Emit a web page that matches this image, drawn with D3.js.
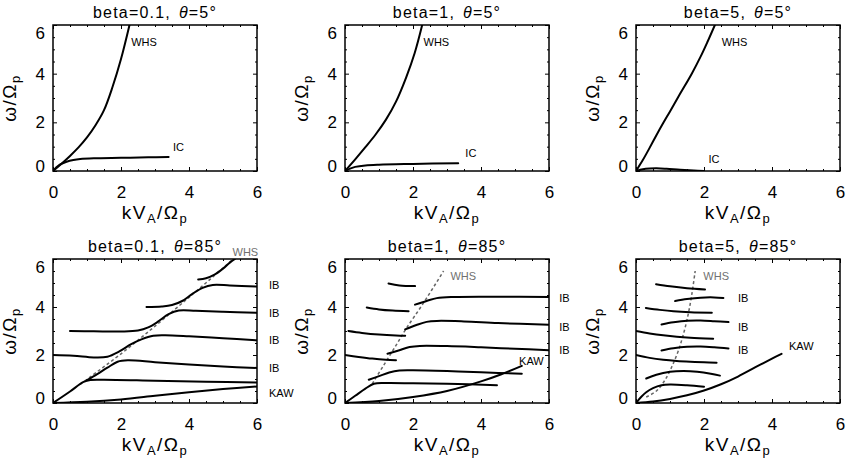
<!DOCTYPE html>
<html>
<head>
<meta charset="utf-8">
<script src="https://cdn.jsdelivr.net/npm/d3@7"></script>
<style>
    body {margin: 0; background: #fff;}
    svg {display: block;}
    text {font-family: "Liberation Sans", Arial, sans-serif;}
</style>
</head>
<body>
<div id="chart"></div>
<script>
// ---- data: [kVA/Ωp, ω/Ωp] ----
var majorTicks = [0, 2, 4, 6];
var minorTicks = [0.5, 1, 1.5, 2.5, 3, 3.5, 4.5, 5, 5.5];
var betas = ["beta=0.1", "beta=1", "beta=5"];
var thetas = ["5°", "85°"];

// theta = 5
var whs_b01_t5 = [[0, 0], [0.25, 0.3], [0.5, 0.62], [0.75, 0.97], [1.0, 1.38], [1.25, 1.88], [1.5, 2.5], [1.75, 3.45], [2.0, 4.6], [2.25, 6.0]];
var ic_b01_t5 = [[0, 0], [0.1, 0.15], [0.2, 0.26], [0.4, 0.38], [0.6, 0.45], [0.8, 0.49], [1.2, 0.52], [2, 0.54], [2.8, 0.56], [3.4, 0.58]];
var whs_b1_t5 = [[0, 0], [0.3, 0.48], [0.6, 0.98], [0.9, 1.5], [1.2, 2.1], [1.5, 2.85], [1.8, 3.85], [2.05, 4.85], [2.27, 6.0]];
var ic_b1_t5 = [[0, 0], [0.15, 0.1], [0.3, 0.17], [0.6, 0.23], [1, 0.26], [2, 0.29], [3.33, 0.32]];
var whs_b5_t5 = [[0, 0], [0.2, 0.45], [0.4, 0.95], [0.6, 1.47], [0.8, 1.97], [1.0, 2.45], [1.3, 3.18], [1.64, 4.0], [1.9, 4.7], [2.1, 5.3], [2.32, 6.0]];
var ic_b5_t5 = [[0, 0], [0.2, 0.07], [0.4, 0.1], [0.6, 0.11], [0.9, 0.09], [1.3, 0.05], [1.7, 0.02], [2.0, 0.0]];

// theta = 85, beta = 0.1
var kaw_b01 = [[0, 0], [1, 0.05], [2, 0.15], [3, 0.3], [4, 0.45], [5, 0.58], [6, 0.69]];
var ib1_b01 = [[0, 0], [0.5, 0.48], [0.9, 0.88], [1.1, 0.96], [1.5, 0.97], [3, 0.93], [4.5, 0.89], [6, 0.85]];
var ib2_b01 = [[1.0, 0.95], [1.3, 1.2], [1.6, 1.47], [1.9, 1.72], [2.2, 1.78], [3, 1.7], [4, 1.6], [5, 1.52], [6, 1.46]];
var ib3_b01 = [[0, 2.0], [0.6, 1.97], [1.2, 1.9], [1.6, 1.93], [1.95, 2.15], [2.3, 2.45], [2.6, 2.65], [2.95, 2.8], [3.3, 2.82], [4, 2.78], [5, 2.7], [6, 2.61]];
var ib4_b01 = [[0.5, 3.0], [1.2, 2.99], [2.0, 2.98], [2.5, 3.02], [2.8, 3.15], [3.1, 3.4], [3.4, 3.7], [3.7, 3.85], [4.2, 3.84], [5, 3.8], [6, 3.76]];
var ib5_b01 = [[2.75, 4.0], [3.2, 4.02], [3.5, 4.08], [3.8, 4.25], [4.1, 4.55], [4.4, 4.8], [4.7, 4.92], [5.2, 4.9], [6, 4.85]];
var ib6_b01 = [[4.27, 5.15], [4.5, 5.2], [4.75, 5.35], [5.0, 5.6], [5.2, 5.85], [5.35, 6.0]];
var whsd_b01 = [[0.8, 0.78], [2, 2.05], [3, 3.2], [4, 4.4], [4.7, 5.25], [5.3, 6.0]];

// theta = 85, beta = 1
var kaw_b1 = [[0, 0], [1, 0.08], [2, 0.25], [3, 0.5], [4, 0.9], [4.6, 1.2], [5.2, 1.55]];
var ib1_b1 = [[0, 0], [0.3, 0.3], [0.6, 0.6], [0.85, 0.8], [1.2, 0.83], [2, 0.82], [3, 0.8], [4.47, 0.74]];
var ib2_b1 = [[0.7, 0.97], [1.0, 1.12], [1.3, 1.27], [1.6, 1.35], [2, 1.36], [3, 1.33], [4, 1.28], [5.2, 1.22]];
var ib3a_b1 = [[0, 2.0], [0.4, 1.92], [0.8, 1.85], [1.2, 1.8], [1.5, 1.78]];
var ib3b_b1 = [[1.25, 2.05], [1.6, 2.2], [1.9, 2.33], [2.2, 2.38], [3, 2.37], [4, 2.32], [5, 2.26], [6, 2.2]];
var ib4a_b1 = [[0.1, 3.0], [0.5, 2.92], [1, 2.85], [1.5, 2.81], [1.77, 2.8]];
var ib4b_b1 = [[1.77, 3.07], [2.1, 3.25], [2.4, 3.38], [2.7, 3.42], [3.5, 3.4], [4.5, 3.33], [6, 3.26]];
var ib5a_b1 = [[0.64, 3.98], [1, 3.9], [1.4, 3.85], [1.87, 3.82]];
var ib5b_b1 = [[2.06, 4.1], [2.4, 4.25], [2.7, 4.37], [3.2, 4.42], [4.5, 4.43], [6, 4.42]];
var ib6_b1 = [[1.28, 4.98], [1.6, 4.9], [2.06, 4.87]];
var whsd_b1 = [[0.8, 0.8], [1.15, 1.6], [1.5, 2.4], [1.8, 3.1], [2.3, 4.15], [2.9, 5.5]];

// theta = 85, beta = 5
var kaw_b5 = [[0, 0], [0.5, 0.06], [1, 0.17], [1.5, 0.32], [2, 0.52], [2.5, 0.78], [3, 1.1], [3.5, 1.48], [4, 1.85], [4.28, 2.05]];
var ib1_b5 = [[0, 0], [0.15, 0.25], [0.3, 0.45], [0.5, 0.62], [0.75, 0.74], [1, 0.77], [1.5, 0.74], [2, 0.68]];
var ib2_b5 = [[0.3, 1.02], [0.6, 1.18], [1, 1.3], [1.4, 1.33], [1.8, 1.3], [2.2, 1.22], [2.47, 1.14]];
var ib3a_b5 = [[0, 2.0], [0.4, 1.88], [0.8, 1.8], [1.2, 1.75], [1.6, 1.72], [2, 1.7], [2.37, 1.68]];
var ib3b_b5 = [[0.75, 2.19], [1.1, 2.28], [1.5, 2.34], [1.9, 2.35], [2.3, 2.32], [2.72, 2.27]];
var ib4a_b5 = [[0, 3.0], [0.4, 2.9], [0.8, 2.82], [1.2, 2.76], [1.6, 2.72], [2.27, 2.68]];
var ib4b_b5 = [[0.75, 3.27], [1.1, 3.36], [1.5, 3.43], [1.9, 3.44], [2.3, 3.41], [2.72, 3.37]];
var ib5a_b5 = [[0.29, 3.96], [0.7, 3.88], [1.1, 3.82], [1.6, 3.78], [2.23, 3.76]];
var ib5b_b5 = [[1.15, 4.25], [1.5, 4.33], [1.9, 4.39], [2.3, 4.4], [2.57, 4.38]];
var ib6_b5 = [[0.59, 4.95], [1, 4.86], [1.5, 4.78], [2.03, 4.73]];
var whsd_b5 = [[0.3, 0.25], [0.6, 0.5], [0.85, 0.95], [1.05, 1.5], [1.25, 2.2], [1.42, 3.0], [1.55, 3.8], [1.65, 4.6], [1.74, 5.5]];

// curve labels: [text, k, omega, grey?]
var labels_b01_t5 = [["WHS", 2.3, 5.3], ["IC", 3.53, 1.0]];
var labels_b1_t5 = [["WHS", 2.31, 5.3], ["IC", 3.54, 0.73]];
var labels_b5_t5 = [["WHS", 2.52, 5.3], ["IC", 2.13, 0.48]];
var labels_b01_t85 = [["WHS", 5.28, 6.3, 1], ["IB", 6.35, 4.9], ["IB", 6.35, 3.76], ["IB", 6.35, 2.61], ["IB", 6.35, 1.46], ["KAW", 6.35, 0.42]];
var labels_b1_t85 = [["WHS", 3.1, 5.3, 1], ["IB", 6.3, 4.35], ["IB", 6.3, 3.14], ["IB", 6.3, 2.19], ["KAW", 5.12, 1.74]];
var labels_b5_t85 = [["WHS", 1.98, 5.3, 1], ["IB", 3.0, 4.35], ["IB", 3.0, 3.14], ["IB", 3.0, 2.19], ["KAW", 4.5, 2.35]];

var panels = [
    {beta: betas[0], theta: thetas[0], curves: [whs_b01_t5, ic_b01_t5], dashed: null, labels: labels_b01_t5},
    {beta: betas[1], theta: thetas[0], curves: [whs_b1_t5, ic_b1_t5], dashed: null, labels: labels_b1_t5},
    {beta: betas[2], theta: thetas[0], curves: [whs_b5_t5, ic_b5_t5], dashed: null, labels: labels_b5_t5},
    {beta: betas[0], theta: thetas[1], curves: [kaw_b01, ib1_b01, ib2_b01, ib3_b01, ib4_b01, ib5_b01, ib6_b01], dashed: whsd_b01, labels: labels_b01_t85},
    {beta: betas[1], theta: thetas[1], curves: [kaw_b1, ib1_b1, ib2_b1, ib3a_b1, ib3b_b1, ib4a_b1, ib4b_b1, ib5a_b1, ib5b_b1, ib6_b1], dashed: whsd_b1, labels: labels_b1_t85},
    {beta: betas[2], theta: thetas[1], curves: [kaw_b5, ib1_b5, ib2_b5, ib3a_b5, ib3b_b5, ib4a_b5, ib4b_b5, ib5a_b5, ib5b_b5, ib6_b5], dashed: whsd_b5, labels: labels_b5_t85}
];

// ---- layout ----
var W = 851, H = 464;
var colLeft = [53, 345, 636], boxW = 204;
var rowTop = [25, 259], boxH = [146, 144];

var svg = d3.select("#chart").append("svg").attr("width", W).attr("height", H);

function styleAxis(g, fs) {
    g.attr("font-size", fs).attr("font-family", null);
    g.select(".domain").remove();
    g.selectAll("line").attr("stroke", "#000").attr("stroke-width", 1);
    g.selectAll("text").attr("fill", "#000");
}

panels.forEach(function (p, i) {
    var col = i % 3, row = Math.floor(i / 3);
    var x0 = colLeft[col], y0 = rowTop[row], h = boxH[row];
    var x = d3.scaleLinear().domain([0, 6]).range([x0, x0 + boxW]);
    var y = d3.scaleLinear().domain([0, 6]).range([y0 + h, y0]);
    var g = svg.append("g");

    var cid = "clip" + i;
    g.append("clipPath").attr("id", cid).append("rect")
        .attr("x", x0).attr("y", y0).attr("width", boxW).attr("height", h);

    var line = d3.line().x(function (d) { return x(d[0]); }).y(function (d) { return y(d[1]); })
        .curve(d3.curveCatmullRom.alpha(0.5));

    var cg = g.append("g").attr("clip-path", "url(#" + cid + ")");
    if (p.dashed) {
        cg.append("path").attr("d", line(p.dashed)).attr("fill", "none")
            .attr("stroke", "#666").attr("stroke-width", 1.5).attr("stroke-dasharray", "3,2.5");
    }
    p.curves.forEach(function (c) {
        cg.append("path").attr("d", line(c)).attr("fill", "none")
            .attr("stroke", "#000").attr("stroke-width", 2).attr("stroke-linecap", "round");
    });

    // ticks, all four sides, pointing inward
    var bx = g.append("g").attr("transform", "translate(0," + (y0 + h) + ")")
        .call(d3.axisBottom(x).tickValues(majorTicks).tickSize(-4).tickSizeOuter(0).tickPadding(15).tickFormat(d3.format("d")));
    styleAxis(bx, 17);
    styleAxis(g.append("g").attr("transform", "translate(0," + (y0 + h) + ")")
        .call(d3.axisBottom(x).tickValues(minorTicks).tickSize(-2).tickSizeOuter(0).tickFormat("")), 10);
    styleAxis(g.append("g").attr("transform", "translate(0," + y0 + ")")
        .call(d3.axisTop(x).tickValues(majorTicks).tickSize(-4).tickSizeOuter(0).tickFormat("")), 10);
    styleAxis(g.append("g").attr("transform", "translate(0," + y0 + ")")
        .call(d3.axisTop(x).tickValues(minorTicks).tickSize(-2).tickSizeOuter(0).tickFormat("")), 10);

    var ly = g.append("g").attr("transform", "translate(" + x0 + ",0)")
        .call(d3.axisLeft(y).tickValues(majorTicks).tickSize(-4).tickSizeOuter(0).tickPadding(8).tickFormat(d3.format("d")));
    styleAxis(ly, 17);
    ly.selectAll("text").attr("y", function (d) { return d === 6 ? 8 : d === 0 ? -4.5 : 0; });
    styleAxis(g.append("g").attr("transform", "translate(" + x0 + ",0)")
        .call(d3.axisLeft(y).tickValues(minorTicks).tickSize(-2).tickSizeOuter(0).tickFormat("")), 10);
    styleAxis(g.append("g").attr("transform", "translate(" + (x0 + boxW) + ",0)")
        .call(d3.axisRight(y).tickValues(majorTicks).tickSize(-4).tickSizeOuter(0).tickFormat("")), 10);
    styleAxis(g.append("g").attr("transform", "translate(" + (x0 + boxW) + ",0)")
        .call(d3.axisRight(y).tickValues(minorTicks).tickSize(-2).tickSizeOuter(0).tickFormat("")), 10);

    g.append("rect").attr("x", x0).attr("y", y0).attr("width", boxW).attr("height", h)
        .attr("fill", "none").attr("stroke", "#000").attr("stroke-width", 1.5);

    // title
    var t = g.append("text").attr("x", x0 + boxW / 2).attr("y", y0 - 7)
        .attr("text-anchor", "middle").attr("font-size", 16).attr("letter-spacing", 1.2);
    t.append("tspan").text(p.beta + ",");
    t.append("tspan").attr("dx", 8).attr("font-style", "italic").text("θ");
    t.append("tspan").text("=" + p.theta);

    // axis titles
    var xt = g.append("text").attr("x", x0 + boxW / 2).attr("y", y0 + h + 48)
        .attr("text-anchor", "middle").attr("font-size", 19).attr("letter-spacing", 1.5);
    xt.append("tspan").text("kV");
    xt.append("tspan").attr("font-size", 13).attr("dy", 4).text("A");
    xt.append("tspan").attr("dy", -4).text("/Ω");
    xt.append("tspan").attr("font-size", 13).attr("dy", 4).text("p");

    var yt = g.append("text").attr("transform", "translate(" + (x0 - 37) + "," + (y0 + h / 2) + ") rotate(-90)")
        .attr("text-anchor", "middle").attr("font-size", 19).attr("letter-spacing", 1.5);
    yt.append("tspan").text("ω/Ω");
    yt.append("tspan").attr("font-size", 13).attr("dy", 4).text("p");

    // curve labels
    p.labels.forEach(function (l) {
        g.append("text").attr("x", x(l[1])).attr("y", y(l[2])).attr("dy", "0.35em")
            .attr("font-size", 11).attr("fill", l[3] ? "#707070" : "#000").text(l[0]);
    });
});
</script>
</body>
</html>
